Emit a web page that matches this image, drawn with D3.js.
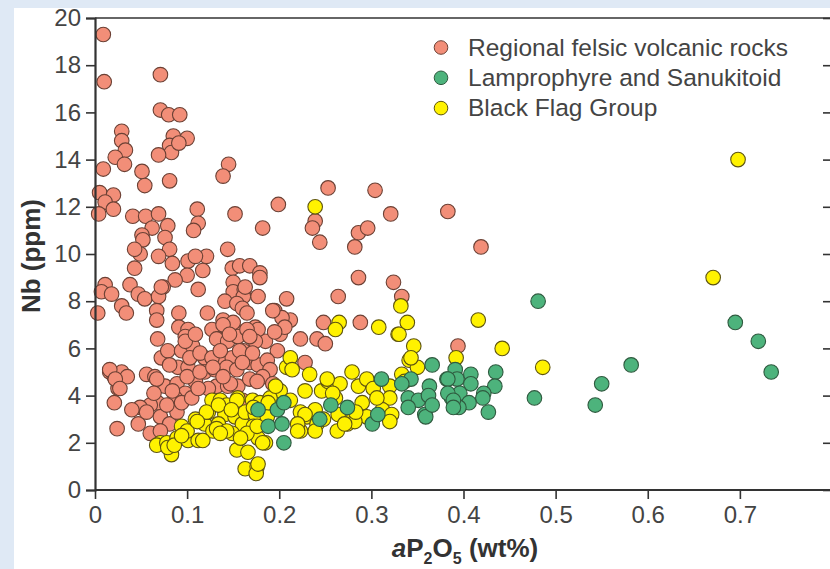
<!DOCTYPE html>
<html>
<head>
<meta charset="utf-8">
<script src="https://cdn.jsdelivr.net/npm/d3@7/dist/d3.min.js"></script>
<style>
  body { margin: 0; background: #dfe9f5; }
  text { font-family: 'Liberation Sans', Arial, sans-serif; }
</style>
</head>
<body>
<div id="chart"></div>
<script>
// aP2O5 (wt%) vs Nb (ppm)
const felsic = [
  [0.009,19.3],[0.010,17.3],[0.071,17.6],[0.071,16.1],[0.080,15.9],[0.092,15.9],[0.029,15.2],[0.029,14.8],
  [0.033,14.4],[0.022,14.1],[0.032,13.8],[0.009,13.6],[0.085,15.0],[0.100,14.9],[0.081,14.6],[0.083,14.3],
  [0.069,14.2],[0.091,14.7],[0.051,13.5],[0.054,12.9],[0.081,13.1],[0.145,13.8],[0.139,13.3],[0.005,12.6],
  [0.020,12.5],[0.011,12.2],[0.020,11.9],[0.004,11.7],[0.041,11.6],[0.055,11.6],[0.069,11.7],[0.111,11.9],
  [0.152,11.7],[0.182,11.1],[0.062,11.1],[0.079,11.2],[0.112,11.3],[0.107,11.0],[0.051,10.8],[0.052,10.6],
  [0.076,10.7],[0.049,10.0],[0.081,10.2],[0.144,10.2],[0.069,9.9],[0.084,9.6],[0.101,9.7],[0.121,9.9],
  [0.043,9.4],[0.100,9.1],[0.117,9.3],[0.087,8.9],[0.074,8.6],[0.038,8.7],[0.011,8.7],[0.007,8.4],
  [0.018,8.3],[0.047,8.3],[0.054,8.1],[0.069,8.2],[0.112,8.5],[0.029,7.8],[0.034,7.5],[0.003,7.5],
  [0.067,7.6],[0.067,7.2],[0.091,7.5],[0.122,7.5],[0.139,7.2],[0.149,9.4],[0.157,9.5],[0.168,9.5],
  [0.179,9.2],[0.179,9.0],[0.150,8.8],[0.150,8.4],[0.162,8.5],[0.161,8.2],[0.177,8.2],[0.141,8.0],
  [0.154,7.9],[0.160,7.7],[0.174,6.9],[0.091,6.9],[0.101,6.8],[0.127,6.8],[0.155,6.7],[0.150,7.1],
  [0.098,6.5],[0.134,6.4],[0.043,10.2],[0.109,9.9],[0.072,8.6],[0.163,8.6],[0.165,7.5],
  [0.253,12.8],[0.304,12.7],[0.199,12.1],[0.239,11.4],[0.236,11.1],[0.244,10.5],[0.286,10.9],[0.296,11.1],
  [0.282,10.3],[0.286,9.0],[0.264,8.2],[0.248,7.1],[0.288,7.1],[0.241,6.4],[0.250,6.2],[0.223,6.4],
  [0.208,8.1],[0.195,7.6],[0.212,7.2],[0.201,6.6],[0.185,6.3],[0.198,5.9],[0.321,11.7],[0.383,11.8],
  [0.419,10.3],[0.324,8.8],[0.333,8.2],[0.394,6.1],[0.203,7.3],[0.177,6.8],[0.206,6.9],[0.228,5.4],
  [0.016,5.0],[0.021,4.8],[0.029,5.0],[0.035,4.8],[0.025,4.3],[0.021,3.7],[0.024,2.6],[0.056,4.9],
  [0.065,4.8],[0.072,5.6],[0.079,5.9],[0.094,5.9],[0.106,6.1],[0.098,6.3],[0.132,6.4],[0.144,6.3],
  [0.155,6.5],[0.174,6.3],[0.119,5.6],[0.134,5.6],[0.149,5.6],[0.161,5.9],[0.168,5.4],[0.177,5.3],
  [0.090,5.2],[0.101,5.2],[0.076,4.4],[0.089,4.5],[0.098,4.1],[0.087,3.9],[0.109,4.6],[0.119,5.0],
  [0.130,5.1],[0.143,5.2],[0.154,5.1],[0.132,4.4],[0.144,4.4],[0.155,4.4],[0.123,4.3],[0.068,3.7],
  [0.060,3.6],[0.049,3.5],[0.040,3.4],[0.047,2.8],[0.071,3.1],[0.081,2.8],[0.060,2.4],[0.089,3.3],
  [0.071,2.5],[0.094,3.7],[0.160,3.8],[0.109,6.6],[0.139,7.0],[0.165,6.8],[0.195,6.7],[0.193,7.6],
  [0.146,6.6],[0.168,6.5],[0.068,6.4],[0.103,5.6],[0.114,5.8],[0.127,5.6],[0.136,5.9],[0.157,5.9],
  [0.171,5.8],[0.187,5.5],[0.016,5.1],[0.022,4.7],[0.027,4.3],[0.067,4.7],[0.081,5.3],[0.100,4.8],
  [0.114,5.0],[0.128,5.2],[0.160,5.4],[0.190,5.1],[0.147,4.5],[0.168,4.7],[0.182,4.8],[0.193,4.5],
  [0.056,3.3],[0.064,4.1],[0.078,3.6],[0.084,4.2],[0.105,3.9],[0.112,4.3],[0.139,4.8],[0.176,4.6]
]

const blackFlag = [
  [0.071,2.0],[0.067,1.9],[0.078,2.0],[0.083,1.5],[0.079,1.8],[0.089,2.2],[0.101,2.1],[0.112,2.1],
  [0.109,3.0],[0.119,2.8],[0.123,3.3],[0.128,2.5],[0.127,3.8],[0.136,3.8],[0.143,3.6],[0.141,3.2],
  [0.134,2.8],[0.155,3.9],[0.152,3.1],[0.160,2.8],[0.149,2.4],[0.163,3.3],[0.171,3.8],[0.174,3.2],
  [0.172,2.7],[0.177,2.2],[0.154,1.7],[0.166,1.6],[0.163,0.9],[0.176,1.0],[0.175,0.7],[0.117,2.1],
  [0.094,2.7],[0.100,2.5],[0.121,3.3],[0.134,3.6],[0.154,3.8],[0.132,2.6],[0.143,2.5],[0.165,2.4],
  [0.185,2.0],[0.201,4.2],[0.208,5.2],[0.212,5.6],[0.233,4.9],[0.228,4.2],[0.246,4.2],[0.253,4.6],
  [0.266,4.5],[0.279,5.0],[0.286,4.4],[0.295,4.7],[0.223,3.3],[0.230,3.1],[0.239,3.4],[0.223,2.5],
  [0.241,2.8],[0.263,2.5],[0.274,2.8],[0.280,3.0],[0.288,3.3],[0.295,3.1],[0.212,3.8],[0.179,3.7],
  [0.190,3.9],[0.187,3.1],[0.172,3.5],[0.214,5.1],[0.252,4.7],[0.302,4.3],[0.320,4.4],[0.320,3.9],
  [0.329,6.6],[0.346,6.1],[0.341,5.5],[0.350,5.2],[0.333,4.9],[0.188,3.7],[0.261,3.9],[0.290,3.7],
  [0.312,3.4],[0.322,3.2],[0.320,2.9],[0.282,2.9],[0.264,3.2],[0.271,2.8],[0.228,3.2],[0.220,2.8],
  [0.220,2.5],[0.239,2.5],[0.182,2.0],[0.177,1.1],[0.111,2.9],[0.136,2.4],[0.176,2.7],[0.283,3.3],
  [0.239,12.0],[0.265,7.1],[0.261,6.8],[0.308,6.9],[0.339,7.1],[0.330,6.6],[0.332,7.8],[0.416,7.2],
  [0.442,6.0],[0.486,5.2],[0.392,5.6],[0.671,9.0],[0.698,14.0],[0.343,5.6],[0.336,4.6],
  [0.086,1.9],[0.094,2.3],[0.148,3.4],[0.158,2.2],[0.196,4.4],[0.258,4.1],[0.306,3.9],[0.248,3.0]
]

const lamprophyre = [
  [0.481,8.0],[0.582,5.3],[0.550,4.5],[0.543,3.6],[0.477,3.9],[0.391,5.1],[0.382,4.7],[0.393,4.7],
  [0.408,4.9],[0.408,4.5],[0.435,5.0],[0.434,4.4],[0.387,3.9],[0.396,4.1],[0.422,4.1],[0.421,3.9],
  [0.406,3.7],[0.395,3.5],[0.427,3.3],[0.358,3.2],[0.366,5.3],[0.311,4.7],[0.343,4.7],[0.363,4.4],
  [0.333,4.5],[0.340,3.9],[0.351,3.8],[0.362,4.0],[0.340,3.5],[0.359,3.1],[0.366,3.6],[0.383,4.7],
  [0.383,4.1],[0.389,3.8],[0.389,3.5],[0.256,3.6],[0.274,3.5],[0.244,3.0],[0.301,2.8],[0.307,3.2],
  [0.177,3.4],[0.198,3.4],[0.188,2.7],[0.203,2.8],[0.205,2.0],[0.205,3.7],[0.695,7.1],[0.720,6.3],
  [0.734,5.0]
]

const seriesNames = ['Regional felsic volcanic rocks', 'Lamprophyre and Sanukitoid', 'Black Flag Group']
const xTicks = [0, 0.1, 0.2, 0.3, 0.4, 0.5, 0.6, 0.7]
const yTicks = [0, 2, 4, 6, 8, 10, 12, 14, 16, 18, 20]

const width = 830
const height = 569

const fills = { felsic: '#f28e78', lamprophyre: '#4db37c', blackFlag: '#fff200' }
const strokes = { felsic: '#6b4034', lamprophyre: '#2f5a3f', blackFlag: '#5e5410' }

const svg = d3.select('#chart')
  .append('svg')
  .attr('width', width)
  .attr('height', height)

// white panel over the blue page
svg.append('rect')
  .attr('x', 14).attr('y', 8)
  .attr('width', width - 14).attr('height', height - 8)
  .attr('fill', '#fff')

const xPositionScale = d3.scaleLinear().domain([0, 0.8]).range([95, 832])
const yPositionScale = d3.scaleLinear().domain([0, 20]).range([490, 18])

// frame: top line and right ticks
svg.append('line')
  .attr('x1', 95).attr('x2', width)
  .attr('y1', 18).attr('y2', 18)
  .attr('stroke', '#333').attr('stroke-width', 1.6)

svg.append('g')
  .attr('transform', 'translate(832,0)')
  .call(d3.axisLeft(yPositionScale).tickValues(yTicks).tickSize(-9).tickFormat(''))
  .call(g => g.select('.domain').remove())
  .call(g => g.selectAll('line').attr('stroke', '#333').attr('stroke-width', 1.6).attr('x2', -9))

// points
function drawPoints (data, key) {
  svg.append('g')
    .selectAll('circle')
    .data(data)
    .enter()
    .append('circle')
    .attr('cx', d => xPositionScale(d[0]))
    .attr('cy', d => yPositionScale(d[1]))
    .attr('r', 7.3)
    .attr('fill', fills[key])
    .attr('stroke', strokes[key])
    .attr('stroke-width', 1.1)
}
drawPoints(felsic, 'felsic')
drawPoints(blackFlag, 'blackFlag')
drawPoints(lamprophyre, 'lamprophyre')

// axes
const xAxis = d3.axisBottom(xPositionScale)
  .tickValues(xTicks)
  .tickSize(9)
  .tickPadding(7)
  .tickFormat(d => d === 0 ? '0' : d3.format('.1f')(d))
svg.append('g')
  .attr('class', 'axis x-axis')
  .attr('transform', 'translate(0,490)')
  .call(xAxis)

const yAxis = d3.axisLeft(yPositionScale)
  .tickValues(yTicks)
  .tickSize(9)
  .tickPadding(5)
svg.append('g')
  .attr('class', 'axis y-axis')
  .attr('transform', 'translate(95,0)')
  .call(yAxis)

svg.selectAll('.axis .domain').attr('stroke', '#333').attr('stroke-width', 2.2)
svg.selectAll('.axis .tick line').attr('stroke', '#333').attr('stroke-width', 1.6)
svg.selectAll('.axis .tick text')
  .attr('fill', '#444')
  .style('font-size', '24px')
  .style('font-family', "'Liberation Sans', Arial, sans-serif")
svg.selectAll('.x-axis .domain').attr('d', 'M95,0H' + width)

// axis titles
svg.append('text')
  .attr('transform', 'translate(40,256) rotate(-90)')
  .attr('text-anchor', 'middle')
  .attr('fill', '#333')
  .style('font-size', '26px')
  .style('font-weight', 'bold')
  .text('Nb (ppm)')

const xTitle = svg.append('text')
  .attr('x', 465)
  .attr('y', 557)
  .attr('text-anchor', 'middle')
  .attr('fill', '#333')
  .style('font-size', '26px')
  .style('font-weight', 'bold')
xTitle.append('tspan').style('font-style', 'italic').text('a')
xTitle.append('tspan').text('P')
xTitle.append('tspan').attr('dy', 7).style('font-size', '16px').text('2')
xTitle.append('tspan').attr('dy', -7).text('O')
xTitle.append('tspan').attr('dy', 7).style('font-size', '16px').text('5')
xTitle.append('tspan').attr('dy', -7).text(' (wt%)')

// legend
const legendKeys = ['felsic', 'lamprophyre', 'blackFlag']
const legend = svg.append('g')
legendKeys.forEach((k, i) => {
  const y = 47.5 + i * 30.3
  legend.append('circle')
    .attr('cx', 441).attr('cy', y).attr('r', 6.8)
    .attr('fill', fills[k]).attr('stroke', strokes[k]).attr('stroke-width', 1)
  legend.append('text')
    .attr('x', 468).attr('y', y + 8)
    .attr('fill', '#444')
    .style('font-size', '24.5px')
    .text(seriesNames[i])
})
</script>
</body>
</html>
